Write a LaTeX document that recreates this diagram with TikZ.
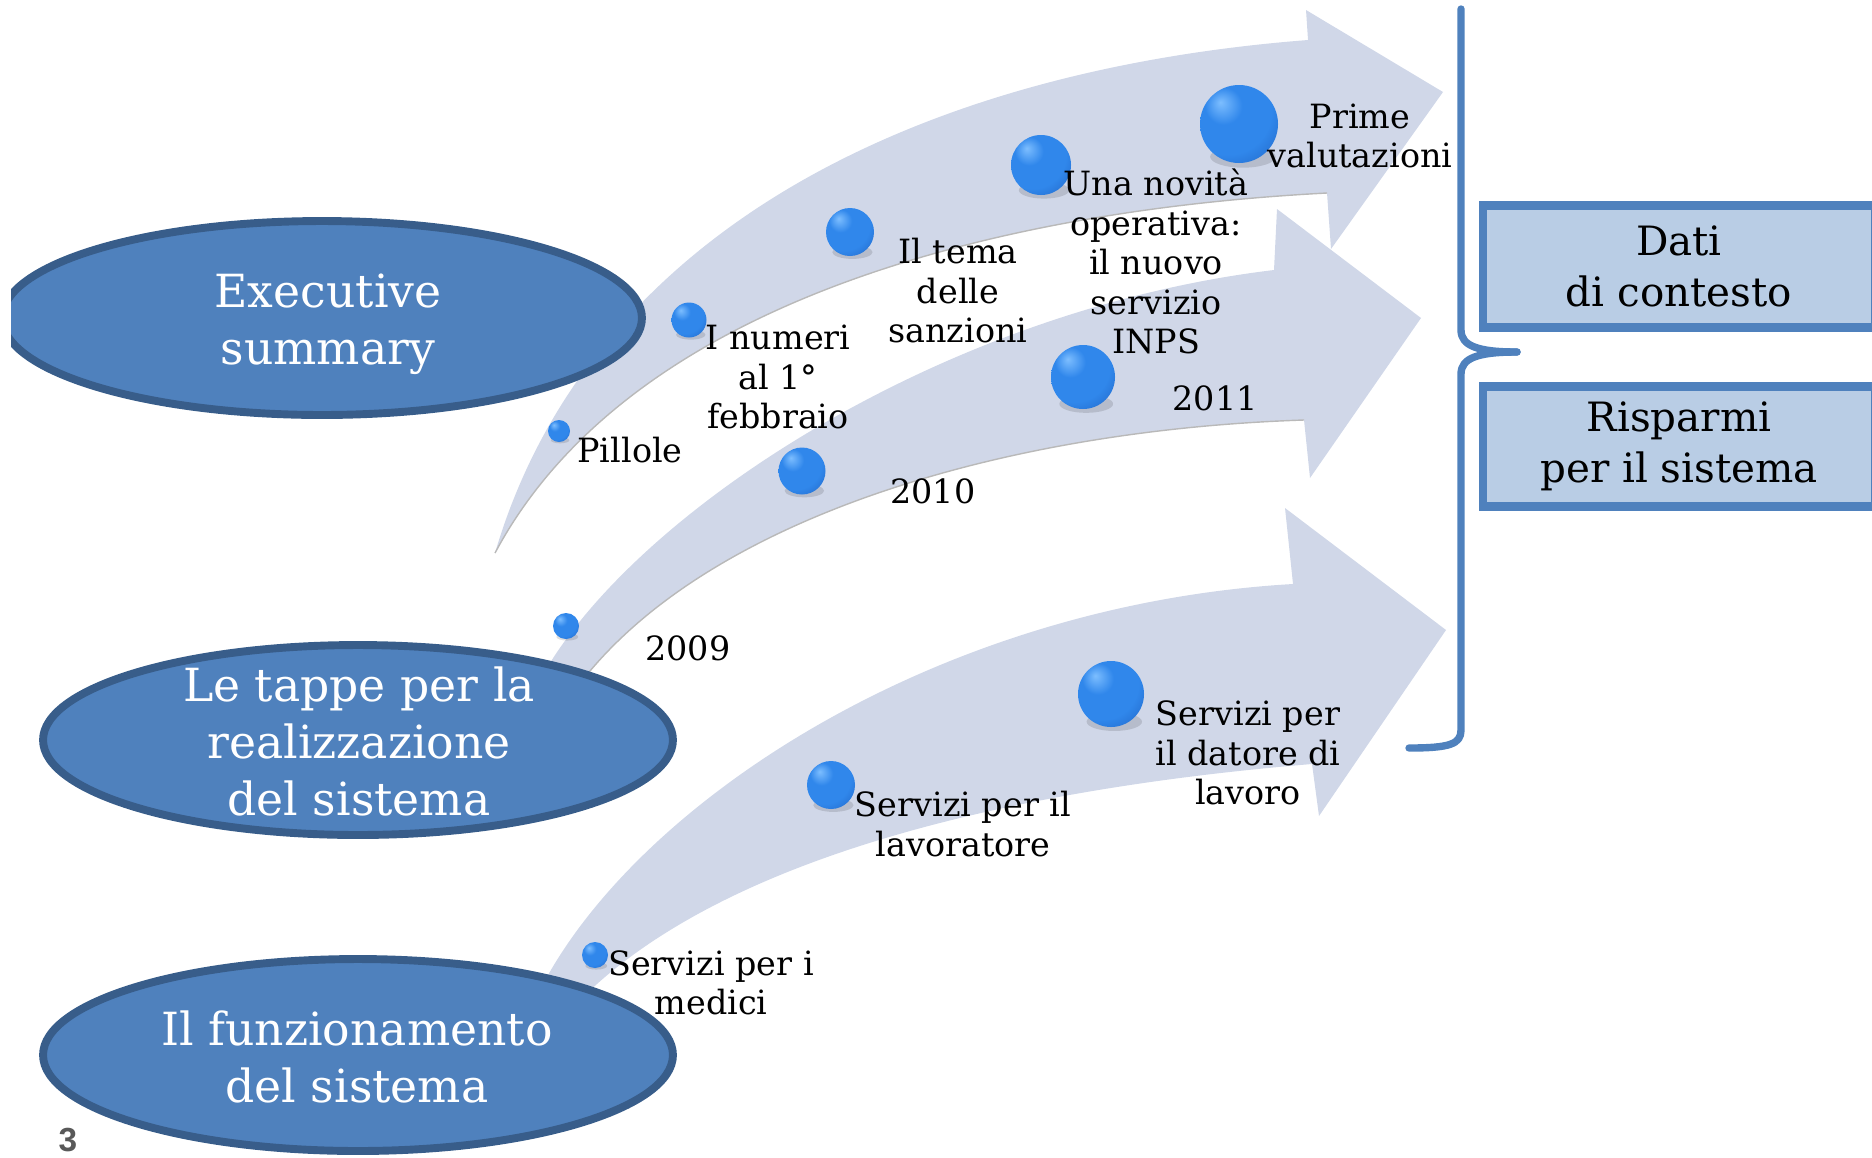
\documentclass[tikz,border=0pt]{standalone}
\usepackage{fontspec}
\setmainfont{DejaVu Serif}
\setsansfont{Liberation Sans}
\usetikzlibrary{shapes.geometric}
\definecolor{bandcol}{RGB}{208,215,232}
\definecolor{ellfill}{RGB}{79,129,189}
\definecolor{elldraw}{RGB}{56,93,138}
\definecolor{boxfill}{RGB}{185,205,229}
\definecolor{boxdraw}{RGB}{79,129,189}
\definecolor{beadlight}{RGB}{125,190,255}
\definecolor{beadmid}{RGB}{48,135,235}
\definecolor{beaddark}{RGB}{22,80,175}
\definecolor{pagecol}{RGB}{89,89,89}
\pgfdeclareradialshading{beadshade}{\pgfpoint{-12bp}{14bp}}{%
  color(0bp)=(beadlight); color(12bp)=(beadmid); color(28bp)=(beadmid); color(52bp)=(beaddark); color(70bp)=(beaddark)}
\begin{document}
\begin{tikzpicture}[x=0.02cm, y=-0.02cm,
  band/.style={fill=bandcol},
  bandedge/.style={draw=gray!55, line width=0.8pt},
  ell/.style={ellipse, draw=elldraw, fill=ellfill, line width=4.5pt, inner sep=0pt},
  etext/.style={text=white, align=center, inner sep=0pt, font=\fontsize{26}{32.4}\selectfont},
  lab/.style={align=center, inner sep=0pt, font=\fontsize{19}{22.5}\selectfont},
  bead/.style={circle, inner sep=0pt, shading=beadshade},
  beadshadow/.style={fill=black, opacity=0.12},
  dbox/.style={rectangle, draw=boxdraw, fill=boxfill, line width=5pt, inner sep=0pt, align=center, font=\fontsize{23}{29.3}\selectfont},
  bracestyle/.style={draw=boxdraw, line width=4.2pt, line cap=round, line join=round},
  pagenum/.style={font=\sffamily\bfseries\fontsize{19}{22}\selectfont, text=pagecol, inner sep=0pt}
]
\useasboundingbox (0,0) rectangle (1872,1157);

% curved arrows
\fill[band] (495,553) .. controls (590,230) and (920,70) .. (1308,40) -- (1306,10) -- (1443,92) -- (1331,249) -- (1327,193) .. controls (1000,210) and (630,300) .. (495,553) -- cycle;
\draw[bandedge] (1327,193) .. controls (1000,210) and (630,300) .. (495,553);

\fill[band] (540,680) .. controls (630,515) and (940,310) .. (1274,270) -- (1277,209) -- (1421,318) -- (1310,478) -- (1304,420) .. controls (1000,430) and (700,520) .. (575,690) -- cycle;
\draw[bandedge] (1304,420) .. controls (1000,430) and (700,520) .. (575,690);

\fill[band] (535,1000) .. controls (625,810) and (930,605) .. (1293,584) -- (1285,508) -- (1446,630) -- (1319,816) -- (1312,764) .. controls (1000,790) and (720,860) .. (580,1000) -- cycle;

% ellipses
\begin{scope}
\clip (11,0) rectangle (1872,1157);
\node[ell, minimum width=12.8cm, minimum height=3.88cm] (exec) at (322,318) {};
\end{scope}
\node[ell, minimum width=12.6cm, minimum height=3.8cm] (tappe) at (358,740) {};
\node[ell, minimum width=12.6cm, minimum height=3.84cm] (funz) at (358,1055) {};

\node[etext] (exect) at (328,324.5) {Executive\\summary};
\node[etext] (tappet) at (359,741.5) {Le tappe per la\\realizzazione\\del sistema};
\node[etext] (funzt) at (357,1057) {Il funzionamento\\del sistema};

% beads
\foreach \n/\x/\y/\d in {pil/559/431/22, num/689/320/35, tema/850/232/48, nov/1041/165/60, prim/1239/124/78, ynine/566/626/26, yten/802/471/47, yeleven/1083/377/64, med/595/955/26, lav/831/785/48, dat/1111/694/66}{
  \fill[beadshadow] (\x+0.05*\d, \y+0.42*\d) ellipse ({0.42*\d} and {0.14*\d});
  \node[bead, minimum size=\d*0.02cm] (\n) at (\x,\y) {};
}

% labels
\node[lab, anchor=base] (lpil) at (630,462) {Pillole};
\node[lab] (lnum) at (778,377) {I numeri\\al 1°\\febbraio};
\node[lab] (ltema) at (958,291) {Il tema\\delle\\sanzioni};
\node[lab] (lnov) at (1156,261.5) {Una novità\\operativa:\\il nuovo\\servizio\\INPS};
\node[lab] (lprim) at (1360,135.75) {Prime\\valutazioni};
\node[lab, anchor=base] (l09) at (688,660) {2009};
\node[lab, anchor=base] (l10) at (933,503) {2010};
\node[lab, anchor=base] (l11) at (1215,410) {2011};
\node[lab] (lmed) at (711,983) {Servizi per i\\medici};
\node[lab] (llav) at (963,824) {Servizi per il\\lavoratore};
\node[lab] (ldat) at (1248,753) {Servizi per\\il datore di\\lavoro};

% brace
\draw[bracestyle] (1461,9) -- (1461,330) .. controls (1461,346) and (1478,352) .. (1517,352);
\draw[bracestyle] (1517,352) .. controls (1478,352) and (1461,358) .. (1461,374) -- (1461,730) .. controls (1461,744) and (1450,748) .. (1409,748);

% boxes
\node[dbox, minimum width=7.84cm, minimum height=2.44cm] (dati) at (1679,266.5) {Dati\\di contesto};
\node[dbox, minimum width=7.84cm, minimum height=2.4cm] (risp) at (1679,446.5) {Risparmi\\per il sistema};

\node[pagenum, anchor=base] (pg) at (68,1151) {3};
\end{tikzpicture}
\end{document}
